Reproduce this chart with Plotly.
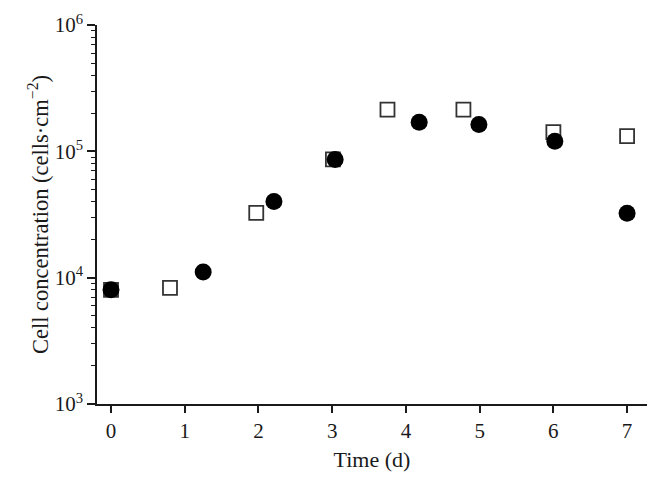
import plotly.graph_objects as go

# Data
sq_time = [0.0, 0.80, 1.97, 3.01, 3.75, 4.78, 6.00, 7.00]
sq_conc = [8000, 8300, 32600, 86500, 214000, 214000, 142000, 132000]
ci_time = [0.0, 1.25, 2.21, 3.04, 4.18, 4.99, 6.02, 7.00]
ci_conc = [8030, 11100, 40100, 86000, 170000, 163000, 120000, 32400]

x_ticks = [0, 1, 2, 3, 4, 5, 6, 7]
y_tickvals = [1e3, 1e4, 1e5, 1e6]
y_ticktext = ["10<sup>3</sup>", "10<sup>4</sup>", "10<sup>5</sup>", "10<sup>6</sup>"]
y_minor = [m * d for d in (1e3, 1e4, 1e5) for m in range(2, 10)]

FONT = "Liberation Serif"

fig = go.Figure()
fig.add_trace(go.Scatter(
    x=sq_time, y=sq_conc, mode="markers",
    marker=dict(symbol="square", size=14, color="white",
                line=dict(color="#333333", width=1.8)),
    showlegend=False))
fig.add_trace(go.Scatter(
    x=ci_time, y=ci_conc, mode="markers",
    marker=dict(symbol="circle", size=17, color="black",
                line=dict(width=0)),
    showlegend=False))

fig.update_layout(
    width=639, height=470,
    margin=dict(l=89, r=0, t=17, b=74),
    paper_bgcolor="white", plot_bgcolor="white",
    font=dict(family=FONT, size=21, color="#1a1a1a"),
)
fig.update_xaxes(
    range=[-0.19, 7.27], tickvals=x_ticks,
    showgrid=False, zeroline=False,
    showline=True, linecolor="#1a1a1a", linewidth=1.5,
    ticks="outside", ticklen=7, tickwidth=1.5, tickcolor="#1a1a1a",
    tickfont=dict(family=FONT, size=21),
    title=dict(text="Time (d)", font=dict(family=FONT, size=22), standoff=10),
)
fig.update_yaxes(
    type="log", range=[3, 6],
    tickvals=y_tickvals, ticktext=y_ticktext,
    showgrid=False, zeroline=False,
    showline=True, linecolor="#1a1a1a", linewidth=1.5,
    ticks="outside", ticklen=8, tickwidth=1.5, tickcolor="#1a1a1a",
    minor=dict(tickvals=y_minor, ticks="outside", ticklen=4, tickwidth=1,
               tickcolor="#1a1a1a", showgrid=False),
    tickfont=dict(family=FONT, size=21),
    title=dict(text="Cell concentration (cells·cm<sup>−2</sup>)", font=dict(family=FONT, size=22.5), standoff=0),
)

fig.write_html("out.html")
